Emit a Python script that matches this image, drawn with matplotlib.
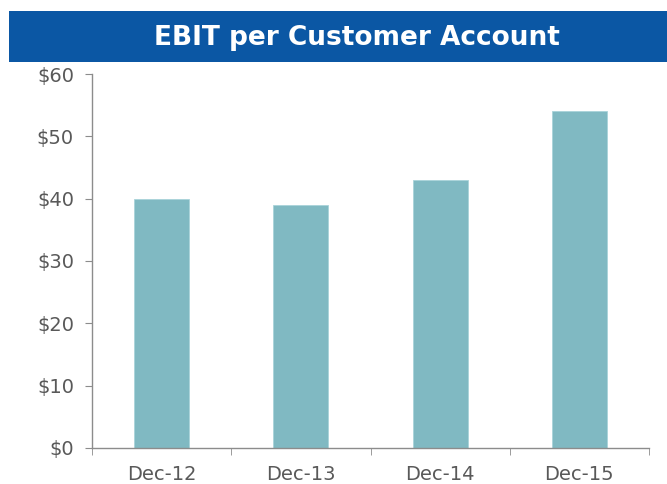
import matplotlib.pyplot as plt
import numpy as np
from matplotlib.patches import Rectangle
from matplotlib.ticker import FuncFormatter, FixedLocator

periods = ["Dec-12", "Dec-13", "Dec-14", "Dec-15"]
ebit_per_account = [40, 39, 43, 54]
y_ticks = [0, 10, 20, 30, 40, 50, 60]

bar_color = "#80b9c2"
banner_color = "#0b57a4"
text_grey = "#595959"
axis_grey = "#8c8c8c"

fig = plt.figure(figsize=(6.67, 4.84), dpi=100)

# title banner across the top
fig.patches.append(Rectangle((0.0135, 0.871), 0.99, 0.106, transform=fig.transFigure,
                             facecolor=banner_color, edgecolor="none"))
fig.text(0.535, 0.922, "EBIT per Customer Account", color="white", fontsize=19,
         fontweight="bold", ha="center", va="center")

ax = fig.add_axes([0.138, 0.0744, 0.835, 0.7727])
x = np.arange(len(periods))
ax.bar(x, ebit_per_account, width=0.395, color=bar_color, edgecolor="#a9d3d9", linewidth=0.6)

ax.set_xlim(-0.5, len(periods) - 0.5)
ax.set_ylim(0, 60)
ax.set_yticks(y_ticks)
ax.yaxis.set_major_formatter(FuncFormatter(lambda v, _: "$%d" % v))
ax.set_xticks(x)
ax.set_xticklabels(periods)
ax.xaxis.set_minor_locator(FixedLocator(np.arange(len(periods) + 1) - 0.5))

for side in ["top", "right"]:
    ax.spines[side].set_visible(False)
for side in ["left", "bottom"]:
    ax.spines[side].set_color(axis_grey)
    ax.spines[side].set_linewidth(1.0)

ax.tick_params(axis="y", colors=axis_grey, labelcolor=text_grey, labelsize=14,
               length=5, pad=8)
ax.tick_params(axis="x", which="major", length=0, labelcolor=text_grey, labelsize=14, pad=12)
ax.tick_params(axis="x", which="minor", length=5, color=axis_grey)

fig.savefig("out.png", dpi=100)
